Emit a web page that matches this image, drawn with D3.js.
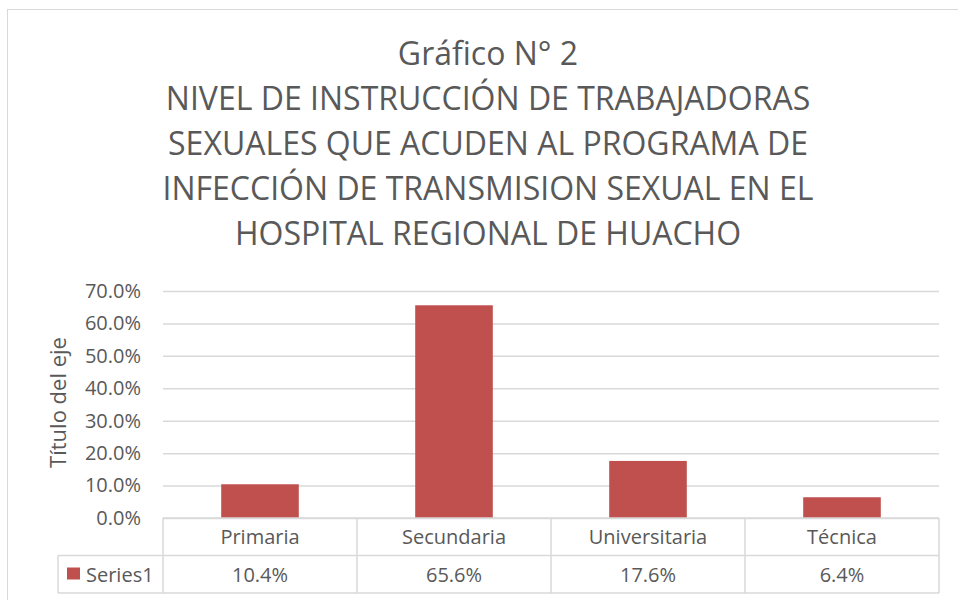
<!DOCTYPE html>
<html>
<head>
<meta charset="utf-8">
<script src="https://cdn.jsdelivr.net/npm/d3@7"></script>
<style>
  body { margin: 0; background: #fff; }
  text { font-family: "Open Sans", sans-serif; fill: #595959; }
</style>
</head>
<body>
<div class="chart"></div>
<script>
// data
var titleLines = [
  "Gráfico N° 2",
  "NIVEL DE INSTRUCCIÓN DE TRABAJADORAS",
  "SEXUALES QUE ACUDEN AL PROGRAMA DE",
  "INFECCIÓN DE TRANSMISION SEXUAL EN EL",
  "HOSPITAL REGIONAL DE HUACHO"
];
var categories = ["Primaria", "Secundaria", "Universitaria", "Técnica"];
var values = [0.104, 0.656, 0.176, 0.064];
var yTicks = [0, 0.1, 0.2, 0.3, 0.4, 0.5, 0.6, 0.7];
var seriesName = "Series1";
var axisTitle = "Título del eje";

var width = 958,
    height = 600,
    margin = {top: 291, right: 19, bottom: 82, left: 163},
    barColor = "#C0504D",
    gridColor = "#D9D9D9",
    labelSize = "20px";

var svg = d3.select("div.chart").append("svg")
    .attr("width", width)
    .attr("height", height);

// chart border
svg.append("rect")
    .attr("x", 7.5).attr("y", 9.5)
    .attr("width", width).attr("height", height)
    .attr("fill", "none")
    .attr("stroke", gridColor);

svg.append("g").selectAll("text")
    .data(titleLines)
  .enter().append("text")
    .attr("x", 488)
    .attr("y", function(d, i) { return 65 + i * 45; })
    .attr("text-anchor", "middle")
    .style("font-size", "32px")
    .text(function(d) { return d; });

var plotW = width - margin.left - margin.right,
    plotH = height - margin.top - margin.bottom;

var x = d3.scaleBand()
    .domain(categories)
    .range([0, plotW])
    .paddingInner(0.6)
    .paddingOuter(0.3);

var xc = d3.scaleBand().domain(categories).range([0, plotW]);

var y = d3.scaleLinear()
    .domain([0, 0.7])
    .range([plotH, 0]);

var g = svg.append("g")
    .attr("transform", "translate(" + margin.left + "," + margin.top + ")");

// gridlines
g.append("g")
    .call(d3.axisLeft(y).tickValues(yTicks).tickSize(-plotW).tickFormat(""))
    .call(function(s) { s.select(".domain").remove(); })
    .selectAll("line")
    .attr("stroke", gridColor)
    .attr("stroke-width", 1.5);

// y tick labels
g.append("g")
    .call(d3.axisLeft(y).tickValues(yTicks).tickSize(0).tickPadding(22).tickFormat(d3.format(".1%")))
    .call(function(s) { s.select(".domain").remove(); })
    .selectAll("text")
    .style("font-size", labelSize)
    .attr("fill", "#595959");

svg.append("text")
    .attr("transform", "translate(66," + (margin.top + plotH / 2 - 2) + ") rotate(-90)")
    .attr("text-anchor", "middle")
    .style("font-size", "22px")
    .text(axisTitle);

// bars
g.selectAll(".bar")
    .data(values)
  .enter().append("rect")
    .attr("class", "bar")
    .attr("fill", barColor)
    .attr("x", function(d, i) { return x(categories[i]); })
    .attr("width", x.bandwidth())
    .attr("y", function(d) { return y(d); })
    .attr("height", function(d) { return plotH - y(d); });

// data table
var rowH = 37.5,
    t = svg.append("g").attr("transform", "translate(" + margin.left + "," + (margin.top + plotH) + ")"),
    lineStyle = function(s) { s.attr("stroke", gridColor).attr("stroke-width", 1.5); };

t.append("line").attr("x1", 0).attr("x2", plotW).attr("y1", 0).attr("y2", 0).call(lineStyle);
t.append("line").attr("x1", 58 - margin.left).attr("x2", plotW).attr("y1", rowH).attr("y2", rowH).call(lineStyle);
t.append("line").attr("x1", 58 - margin.left).attr("x2", plotW).attr("y1", rowH * 2).attr("y2", rowH * 2).call(lineStyle);
t.append("line").attr("x1", 58 - margin.left).attr("x2", 58 - margin.left).attr("y1", rowH).attr("y2", rowH * 2).call(lineStyle);

t.selectAll(".sep")
    .data(categories.concat(["end"]))
  .enter().append("line")
    .attr("class", "sep")
    .attr("x1", function(d, i) { return i * xc.bandwidth(); })
    .attr("x2", function(d, i) { return i * xc.bandwidth(); })
    .attr("y1", 0).attr("y2", rowH * 2)
    .call(lineStyle);

t.selectAll(".cat")
    .data(categories)
  .enter().append("text")
    .attr("class", "cat")
    .attr("x", function(d) { return xc(d) + xc.bandwidth() / 2; })
    .attr("y", 26)
    .attr("text-anchor", "middle")
    .style("font-size", labelSize)
    .text(function(d) { return d; });

t.selectAll(".val")
    .data(values)
  .enter().append("text")
    .attr("class", "val")
    .attr("x", function(d, i) { return xc(categories[i]) + xc.bandwidth() / 2; })
    .attr("y", rowH + 26)
    .attr("text-anchor", "middle")
    .style("font-size", labelSize)
    .text(function(d) { return d3.format(".1%")(d); });

t.append("rect")
    .attr("x", 67 - margin.left).attr("y", rowH + 12)
    .attr("width", 13).attr("height", 12)
    .attr("fill", barColor);

t.append("text")
    .attr("x", 86 - margin.left)
    .attr("y", rowH + 26)
    .style("font-size", labelSize)
    .text(seriesName);
</script>
</body>
</html>
